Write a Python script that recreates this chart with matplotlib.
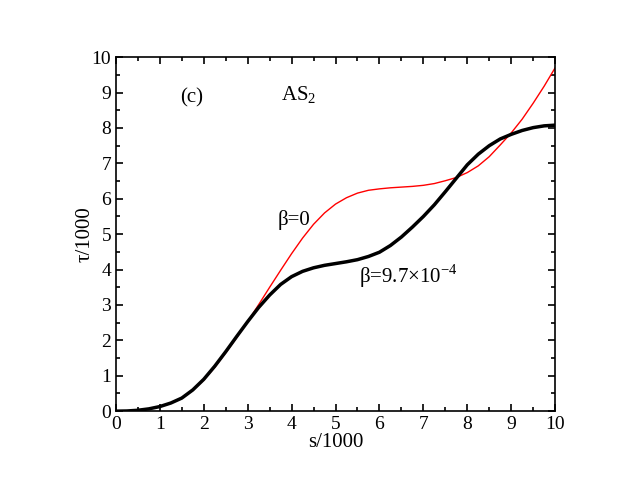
import matplotlib
matplotlib.use('Agg')
import matplotlib.pyplot as plt
from matplotlib.ticker import MultipleLocator

plt.rcParams['font.family'] = ['Liberation Serif', 'DejaVu Serif']
plt.rcParams['mathtext.fontset'] = 'custom'
plt.rcParams['mathtext.rm'] = 'Liberation Serif'

s = [0, 0.25, 0.5, 0.75, 1.0, 1.25, 1.5, 1.75, 2.0, 2.25, 2.5, 2.75, 3.0,
     3.25, 3.5, 3.75, 4.0, 4.25, 4.5, 4.75, 5.0, 5.25, 5.5, 5.75, 6.0,
     6.25, 6.5, 6.75, 7.0, 7.25, 7.5, 7.75, 8.0, 8.25, 8.5, 8.75, 9.0,
     9.25, 9.5, 9.75, 10.0]

# beta = 0 (red, thin)
tau_beta0 = [0, 0.005, 0.025, 0.065, 0.13, 0.23, 0.37, 0.59, 0.88, 1.24, 1.65,
             2.08, 2.53, 3.01, 3.50, 3.98, 4.45, 4.89, 5.28, 5.60, 5.85, 6.03,
             6.16, 6.24, 6.28, 6.31, 6.33, 6.35, 6.38, 6.43, 6.51, 6.60, 6.74,
             6.93, 7.19, 7.52, 7.86, 8.25, 8.70, 9.18, 9.70]

# beta = 9.7e-4 (black, thick)
tau_beta = [0, 0.005, 0.025, 0.065, 0.13, 0.23, 0.37, 0.60, 0.90, 1.27, 1.68,
            2.11, 2.53, 2.93, 3.28, 3.58, 3.80, 3.95, 4.05, 4.12, 4.17, 4.22,
            4.28, 4.37, 4.49, 4.68, 4.92, 5.20, 5.50, 5.83, 6.20, 6.58, 6.96,
            7.26, 7.50, 7.69, 7.82, 7.93, 8.01, 8.06, 8.08]

fig = plt.figure(figsize=(6.44, 4.93), dpi=100)
ax = fig.add_axes([0.180, 0.166, 0.682, 0.718])

ax.plot(s, tau_beta0, color='red', lw=1.0)
ax.plot(s, tau_beta, color='black', lw=2.5, solid_joinstyle='round')

ax.set_xlim(0, 10)
ax.set_ylim(0, 10)
ax.xaxis.set_major_locator(MultipleLocator(1))
ax.xaxis.set_minor_locator(MultipleLocator(0.5))
ax.yaxis.set_major_locator(MultipleLocator(1))
ax.yaxis.set_minor_locator(MultipleLocator(0.5))
ax.tick_params(which='both', direction='in', top=True, right=True,
               labelsize=14, width=1.2)
ax.tick_params(which='major', length=5)
ax.tick_params(which='minor', length=3)
for sp in ax.spines.values():
    sp.set_linewidth(1.2)

ax.set_xlabel('s/1000', fontsize=15, labelpad=0)
ax.set_ylabel('τ/1000', fontsize=15, labelpad=-2)

ax.text(1.72, 8.85, '(c)', fontsize=15, ha='center', va='center')
ax.text(4.17, 8.93, r'AS$_{\rm 2}$', fontsize=15, ha='center', va='center')
ax.text(4.05, 5.4, 'β=0', fontsize=15, ha='center', va='center')
ax.text(6.65, 3.8, r'β=9.7×10$^{\rm {-}4}$', fontsize=15,
        ha='center', va='center')

fig.savefig('out.png', dpi=100)
